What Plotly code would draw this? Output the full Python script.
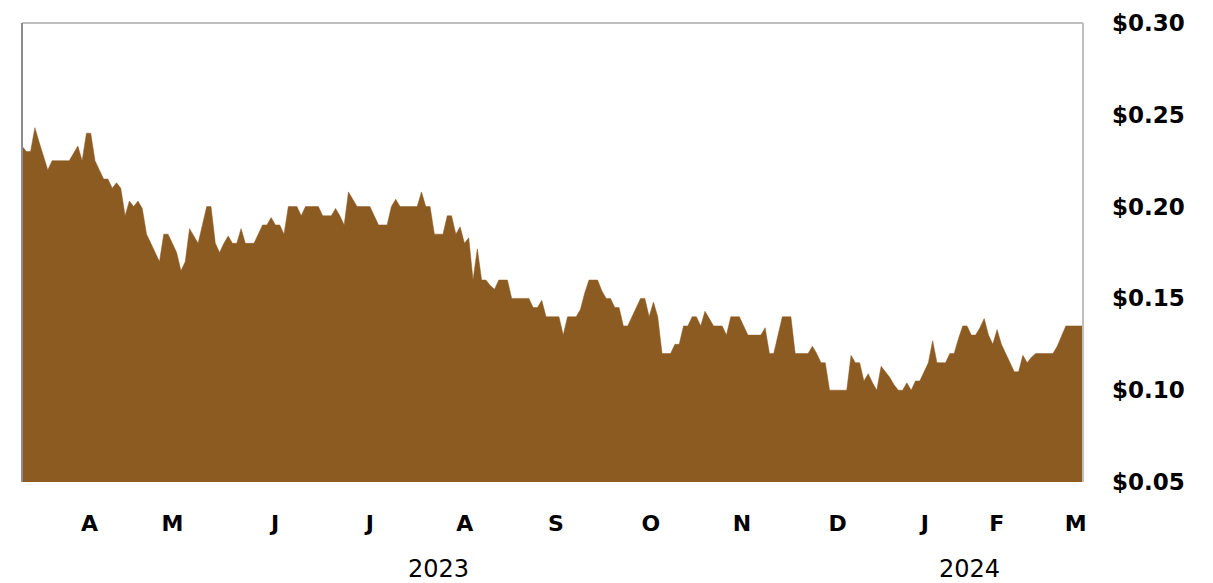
import plotly.graph_objects as go

# Daily (trading-day) closing price
prices = [
    0.233, 0.230, 0.230, 0.243, 0.235, 0.228, 0.220, 0.225, 0.225, 0.225,
    0.225, 0.225, 0.229, 0.233, 0.225, 0.240, 0.240, 0.225, 0.220, 0.215,
    0.215, 0.210, 0.213, 0.210, 0.195, 0.203, 0.200, 0.203, 0.199, 0.185,
    0.180, 0.175, 0.170, 0.185, 0.185, 0.180, 0.175, 0.165, 0.170, 0.188,
    0.184, 0.180, 0.190, 0.200, 0.200, 0.180, 0.175, 0.180, 0.184, 0.180,
    0.180, 0.188, 0.180, 0.180, 0.180, 0.185, 0.190, 0.190, 0.194, 0.190,
    0.190, 0.185, 0.200, 0.200, 0.200, 0.195, 0.200, 0.200, 0.200, 0.200,
    0.195, 0.195, 0.195, 0.199, 0.195, 0.190, 0.208, 0.204, 0.200, 0.200,
    0.200, 0.200, 0.195, 0.190, 0.190, 0.190, 0.200, 0.204, 0.200, 0.200,
    0.200, 0.200, 0.200, 0.208, 0.200, 0.200, 0.185, 0.185, 0.185, 0.195,
    0.195, 0.185, 0.189, 0.180, 0.183, 0.160, 0.177, 0.160, 0.160, 0.157,
    0.155, 0.160, 0.160, 0.160, 0.150, 0.150, 0.150, 0.150, 0.150, 0.145,
    0.145, 0.149, 0.140, 0.140, 0.140, 0.140, 0.130, 0.140, 0.140, 0.140,
    0.144, 0.153, 0.160, 0.160, 0.160, 0.154, 0.150, 0.150, 0.145, 0.145,
    0.135, 0.135, 0.140, 0.145, 0.150, 0.150, 0.140, 0.148, 0.140, 0.120,
    0.120, 0.120, 0.125, 0.125, 0.135, 0.135, 0.140, 0.140, 0.135, 0.143,
    0.139, 0.135, 0.135, 0.135, 0.130, 0.140, 0.140, 0.140, 0.135, 0.130,
    0.130, 0.130, 0.130, 0.134, 0.120, 0.120, 0.130, 0.140, 0.140, 0.140,
    0.120, 0.120, 0.120, 0.120, 0.124, 0.120, 0.115, 0.115, 0.100, 0.100,
    0.100, 0.100, 0.100, 0.119, 0.115, 0.115, 0.105, 0.109, 0.104, 0.100,
    0.113, 0.110, 0.107, 0.103, 0.100, 0.100, 0.104, 0.100, 0.105, 0.105,
    0.110, 0.115, 0.127, 0.115, 0.115, 0.115, 0.120, 0.120, 0.128, 0.135,
    0.135, 0.130, 0.130, 0.134, 0.139, 0.130, 0.125, 0.133, 0.125, 0.120,
    0.115, 0.110, 0.110, 0.119, 0.115, 0.118, 0.120, 0.120, 0.120, 0.120,
    0.120, 0.124, 0.130, 0.135, 0.135, 0.135, 0.135, 0.135,
]
day_index = list(range(len(prices)))

# Month labels and their trading-day positions
month_labels = ["A", "M", "J", "J", "A", "S", "O", "N", "D", "J", "F", "M"]
month_pos = [15.7, 35.0, 58.9, 81.0, 103.1, 124.3, 146.4, 167.6, 189.9, 210.2, 226.9, 245.3]

# Year labels and their positions
year_labels = ["2023", "2024"]
year_pos = [96.9, 220.6]

# Price axis ticks
price_ticks = [0.05, 0.10, 0.15, 0.20, 0.25, 0.30]
price_tick_text = ["$0.05", "$0.10", "$0.15", "$0.20", "$0.25", "$0.30"]

BROWN = "#8C5B22"

fig = go.Figure()
fig.add_trace(go.Scatter(
    x=day_index, y=prices, mode="lines",
    line=dict(color=BROWN, width=0.5),
    fill="tozeroy", fillcolor=BROWN,
    hoverinfo="x+y", showlegend=False,
))

# the page body has an 8px margin, so the figure is sized/offset to compensate
fig.update_layout(
    width=1205, height=575,
    margin=dict(l=14, r=130, t=15, b=101),
    paper_bgcolor="white", plot_bgcolor="white",
    font=dict(family="DejaVu Sans", color="black"),
    xaxis=dict(
        range=[0, len(prices) - 1],
        tickvals=month_pos, ticktext=month_labels,
        tickfont=dict(family="DejaVu Sans", size=22, color="black", weight="bold"),
        showgrid=False, zeroline=False, showline=False, ticks="",
        ticklabelstandoff=26, automargin=False,
    ),
    yaxis=dict(
        side="right",
        range=[0.05, 0.30],
        tickvals=price_ticks, ticktext=price_tick_text,
        tickfont=dict(family="DejaVu Sans", size=23, color="black", weight="bold"),
        showgrid=False, zeroline=False, showline=False, ticks="",
        ticklabelstandoff=28, automargin=False,
    ),
    shapes=[
        dict(type="line", xref="paper", yref="paper", x0=0, x1=1, y0=1, y1=1,
             line=dict(color="#BFBFBF", width=2)),
        dict(type="line", xref="paper", yref="paper", x0=1, x1=1, y0=0, y1=1,
             line=dict(color="#BFBFBF", width=2)),
        dict(type="line", xref="paper", yref="paper", x0=0, x1=0, y0=0, y1=1,
             line=dict(color="#8C8C8C", width=2)),
    ],
)

for lbl, pos in zip(year_labels, year_pos):
    fig.add_annotation(
        x=pos, y=-0.19, xref="x", yref="paper",
        text=lbl, showarrow=False, yanchor="middle", xanchor="center",
        font=dict(family="DejaVu Sans", size=24, color="black"),
    )

fig.write_html("out.html")
